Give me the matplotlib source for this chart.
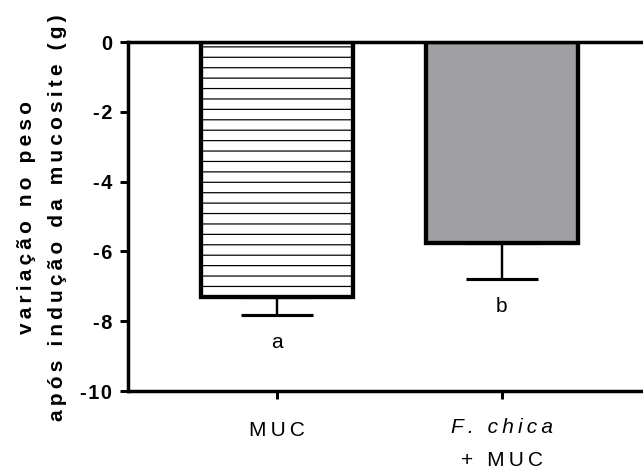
import numpy as np
import matplotlib
matplotlib.use("Agg")
import matplotlib.pyplot as plt

plt.rcParams['font.family'] = ['Liberation Sans', 'DejaVu Sans']
plt.rcParams['hatch.linewidth'] = 0.7

groups = ["MUC", "F. chica + MUC"]
means = [-7.3, -5.77]
errors = [0.53, 1.03]
letters = ["a", "b"]
yticks = [0, -2, -4, -6, -8, -10]

TS = "\u2009"  # thin space, GraphPad style letter spacing


def spaced(s, sep=TS):
	return sep.join(s)


# dpi 125 so that the "--" hatch lands on ~10 px spacing
fig = plt.figure(figsize=(643 / 125, 471 / 125), dpi=125)
ax = fig.add_axes([128 / 643, 1 - 391 / 471, 1 - 128 / 643, 349 / 471])

x = np.arange(len(groups))
bars = ax.bar(x, means, width=0.675, color=["white", "#a09fa4"],
			  edgecolor="black", linewidth=2.5, zorder=2)
bars[0].set_hatch("--")

# error bars only on the outer side
ax.errorbar(x, means, yerr=[errors, [0, 0]], fmt="none", ecolor="black",
			elinewidth=1.4, capsize=21, capthick=1.8, zorder=1)

for xi, m, e, lab in zip(x, means, errors, letters):
	ax.text(xi, m - e - 0.95, lab, ha="center", va="baseline", fontsize=12)

ax.set_xlim(-0.662, 1.627)
ax.set_ylim(-10, 0)
ax.set_yticks(yticks)
ax.set_yticklabels([spaced(str(t), "\u200a") for t in yticks], fontsize=11.5,
				   fontweight="bold")
ax.set_xticks(x)
ax.set_xticklabels(["", ""])

trans = ax.get_xaxis_transform()
ax.text(x[0], -0.112, spaced("MUC"), transform=trans, ha="center",
		va="center", fontsize=12)
ax.text(x[1], -0.106, spaced("F. chica"), transform=trans, ha="center",
		va="center", fontsize=12, style="italic")
ax.text(x[1], -0.198, spaced("+ MUC"), transform=trans, ha="center",
		va="center", fontsize=12)

fig.text(42 / 643, 1 - 218 / 471,
		 spaced("variação no peso") + "\n" + spaced("após indução da mucosite (g)"),
		 rotation=90, ha="center", va="center", fontsize=12,
		 fontweight="bold", linespacing=1.75, multialignment="center")

for side in ["left", "bottom", "top"]:
	ax.spines[side].set_linewidth(2.0)
ax.spines["right"].set_visible(False)
ax.tick_params(axis="y", direction="out", length=4.6, width=1.7, pad=4.5)
ax.tick_params(axis="x", direction="out", length=4.6, width=1.7)

fig.savefig("out.png", dpi=125)
